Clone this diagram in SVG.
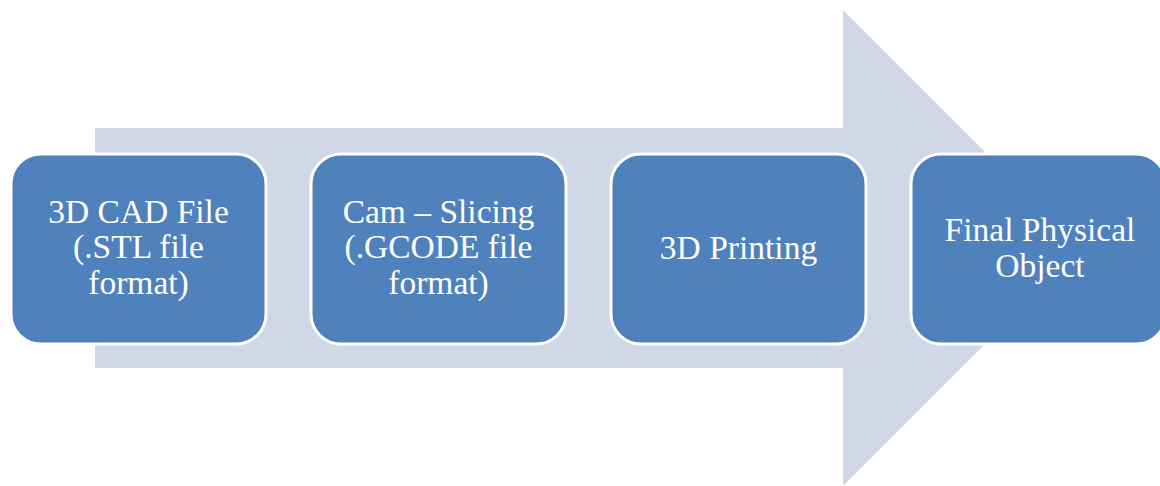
<svg xmlns="http://www.w3.org/2000/svg" width="1160" height="486" viewBox="0 0 1160 486">
  <style>
    .step rect { fill: #4F81BD; stroke: #FFFFFF; stroke-width: 3; }
    .step text { font-family: "Liberation Serif", "Times New Roman", serif; font-size: 33.5px; fill: #FFFFFF; text-anchor: middle; }
  </style>
  <rect width="1160" height="486" fill="#FFFFFF"/>
  <!-- Process flow arrow behind the steps -->
  <g id="connectors">
    <polygon points="95,128 843,128 843,10 1081,248 843,486 843,368 95,368" fill="#D0D8E8"/>
  </g>
  <g id="step1" class="step">
    <rect x="11" y="154" width="255" height="190" rx="30" ry="30"/>
    <text x="138.5" y="223">3D CAD File</text>
    <text x="138.5" y="258">(.STL file</text>
    <text x="138.5" y="294">format)</text>
  </g>
  <g id="step2" class="step">
    <rect x="311" y="154" width="255" height="190" rx="30" ry="30"/>
    <text x="438.5" y="223">Cam – Slicing</text>
    <text x="438.5" y="258">(.GCODE file</text>
    <text x="438.5" y="294">format)</text>
  </g>
  <g id="step3" class="step">
    <rect x="611" y="154" width="255" height="190" rx="30" ry="30"/>
    <text x="738.5" y="259">3D Printing</text>
  </g>
  <g id="step4" class="step">
    <rect x="911" y="154" width="255" height="190" rx="30" ry="30"/>
    <text x="1040" y="241">Final Physical</text>
    <text x="1040" y="277">Object</text>
  </g>
</svg>
